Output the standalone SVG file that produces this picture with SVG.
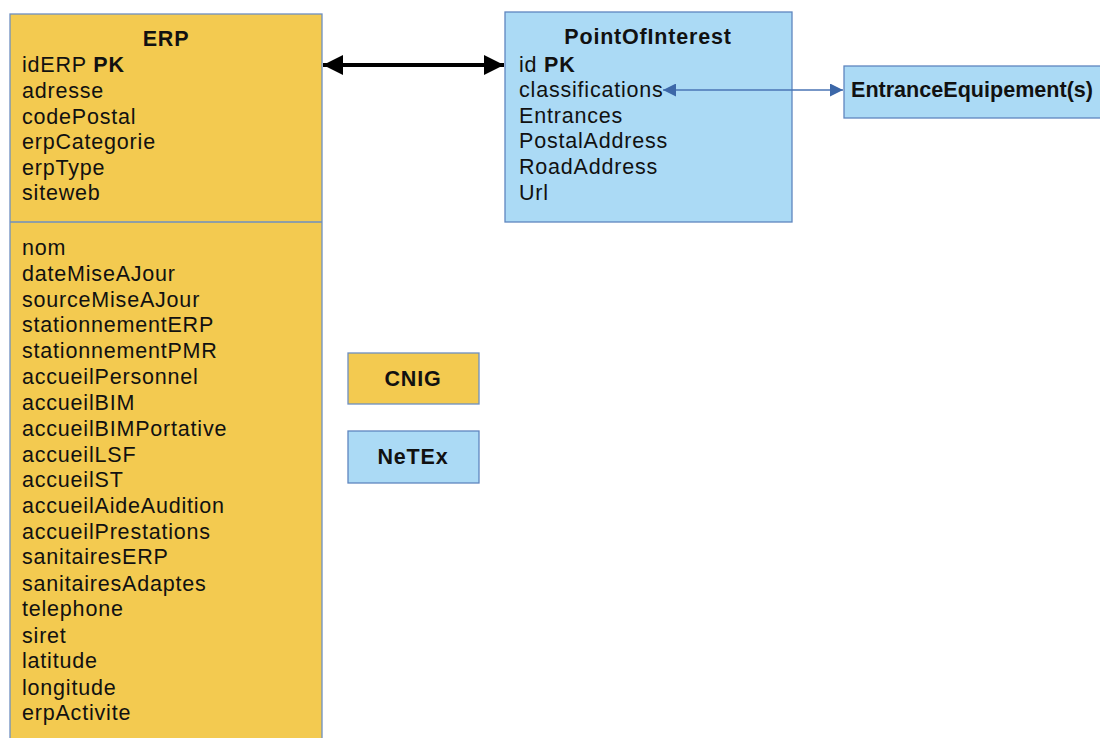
<svg xmlns="http://www.w3.org/2000/svg" width="1100" height="738" viewBox="0 0 1100 738">
<style>
.t{font-family:"Liberation Sans",Arial,sans-serif;font-size:21.5px;letter-spacing:0.8px;fill:#111}
.b{font-weight:bold}
.y{fill:#F3CA50;stroke:#6E8FC0;stroke-width:1.3}
.c{fill:#ABDAF5;stroke:#5F86BF;stroke-width:1.3}
</style>
<defs>
<marker id="ah" viewBox="0 0 10 10" refX="10" refY="5" markerWidth="22" markerHeight="20" markerUnits="userSpaceOnUse" orient="auto-start-reverse"><path d="M0,0 L10,5 L0,10 Z" fill="#000"/></marker>
<marker id="bh" viewBox="0 0 10 10" refX="10" refY="5" markerWidth="16" markerHeight="13" markerUnits="userSpaceOnUse" orient="auto-start-reverse"><path d="M0,0 L10,5 L0,10 Z" fill="#3C67A8"/></marker>
</defs>
<rect width="1100" height="738" fill="#fff"/>
<g id="erp">
<rect class="y" x="10" y="14" width="312" height="740"/>
<line x1="10" y1="222" x2="322" y2="222" stroke="#6E8FC0" stroke-width="1.3"/>
<text class="t b" x="166" y="46" text-anchor="middle">ERP</text>
<text class="t" x="22" y="72">idERP <tspan class="b">PK</tspan></text>
<text class="t" x="22" y="98">adresse</text>
<text class="t" x="22" y="124">codePostal</text>
<text class="t" x="22" y="149">erpCategorie</text>
<text class="t" x="22" y="175">erpType</text>
<text class="t" x="22" y="200">siteweb</text>
<text class="t" x="22" y="255">nom</text>
<text class="t" x="22" y="281">dateMiseAJour</text>
<text class="t" x="22" y="307">sourceMiseAJour</text>
<text class="t" x="22" y="332">stationnementERP</text>
<text class="t" x="22" y="358">stationnementPMR</text>
<text class="t" x="22" y="384">accueilPersonnel</text>
<text class="t" x="22" y="410">accueilBIM</text>
<text class="t" x="22" y="436">accueilBIMPortative</text>
<text class="t" x="22" y="462">accueilLSF</text>
<text class="t" x="22" y="487">accueilST</text>
<text class="t" x="22" y="513">accueilAideAudition</text>
<text class="t" x="22" y="539">accueilPrestations</text>
<text class="t" x="22" y="564">sanitairesERP</text>
<text class="t" x="22" y="591">sanitairesAdaptes</text>
<text class="t" x="22" y="616">telephone</text>
<text class="t" x="22" y="643">siret</text>
<text class="t" x="22" y="668">latitude</text>
<text class="t" x="22" y="695">longitude</text>
<text class="t" x="22" y="720">erpActivite</text>
</g>
<g id="poi">
<rect class="c" x="505" y="12" width="287" height="210"/>
<text class="t b" x="648" y="44" text-anchor="middle">PointOfInterest</text>
<text class="t" x="519" y="72">id <tspan class="b">PK</tspan></text>
<text class="t" x="519" y="97">classifications</text>
<text class="t" x="519" y="123">Entrances</text>
<text class="t" x="519" y="148">PostalAddress</text>
<text class="t" x="519" y="174">RoadAddress</text>
<text class="t" x="519" y="200">Url</text>
</g>
<g id="entrance">
<rect class="c" x="844" y="66" width="262" height="52"/>
<text class="t b" x="851" y="97" style="letter-spacing:0" textLength="242" lengthAdjust="spacingAndGlyphs">EntranceEquipement(s)</text>
</g>
<g id="cnig">
<rect class="y" x="348" y="353" width="131" height="51"/>
<text class="t b" x="413" y="386" text-anchor="middle">CNIG</text>
</g>
<g id="netex">
<rect class="c" x="348" y="431" width="131" height="52"/>
<text class="t b" x="413" y="464" text-anchor="middle">NeTEx</text>
</g>
<g id="connectors">
<line x1="323" y1="65" x2="504" y2="65" stroke="#000" stroke-width="4" marker-start="url(#ah)" marker-end="url(#ah)"/>
<line x1="663" y1="90" x2="843" y2="90" stroke="#4A74B4" stroke-width="1.5" marker-start="url(#bh)" marker-end="url(#bh)"/>
</g>
</svg>
